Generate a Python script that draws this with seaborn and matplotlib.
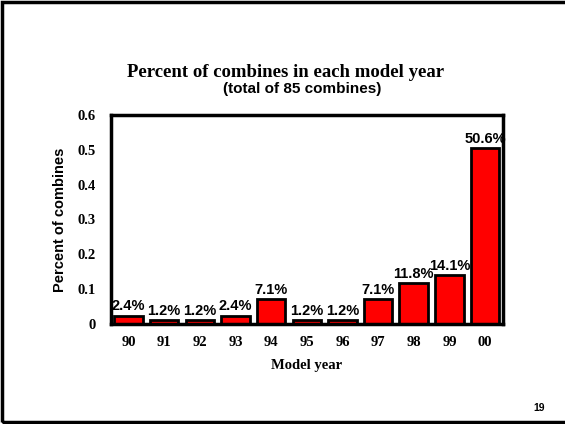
import matplotlib
matplotlib.use('Agg')
import pandas as pd
import seaborn as sns
from matplotlib import pyplot as plt
from matplotlib.patches import Rectangle

years = ['90', '91', '92', '93', '94', '95', '96', '97', '98', '99', '00']
share = [0.024, 0.012, 0.012, 0.024, 0.071, 0.012, 0.012, 0.071, 0.118, 0.141, 0.506]
labels = ['2.4%', '1.2%', '1.2%', '2.4%', '7.1%', '1.2%', '1.2%', '7.1%', '11.8%', '14.1%', '50.6%']

df = pd.DataFrame({'year': years, 'share': share})

sns.set_style('white', {'text.color': 'black', 'axes.labelcolor': 'black',
                        'xtick.color': 'black', 'ytick.color': 'black'})
serif = ['Liberation Serif', 'DejaVu Serif']
sans = ['Liberation Sans', 'DejaVu Sans']

fig = plt.figure(figsize=(5.65, 4.24), dpi=100)
ax = fig.add_axes([0.196, 0.236, 0.694, 0.493])

sns.barplot(data=df, x='year', y='share', order=years, color='#ff0000',
            edgecolor='black', linewidth=2, width=0.8, saturation=1, ax=ax)

# percentage labels above bars
for i, v in enumerate(share):
    ax.text(i, v + 0.006, labels[i], ha='center', va='bottom', color='black',
            fontsize=10.5, fontweight='bold', family=sans)

ax.set_xlim(-0.5, 10.5)
ax.set_ylim(0, 0.6)
ax.set_yticks([0, 0.1, 0.2, 0.3, 0.4, 0.5, 0.6])
ax.set_yticklabels(['0', '0.1', '0.2', '0.3', '0.4', '0.5', '0.6'])
ax.tick_params(axis='y', length=0, pad=11, labelcolor='black')
ax.tick_params(axis='x', length=0, pad=9, labelcolor='black')
for lab in ax.get_xticklabels() + ax.get_yticklabels():
    lab.set_family(serif)
    lab.set_fontweight('bold')
    lab.set_fontsize(10.5)

for s in ax.spines.values():
    s.set_color('black')
    s.set_linewidth(2.5)

ax.set_xlabel('Model year', family=serif, fontweight='bold', fontsize=10.5, labelpad=7, color='black')
ax.set_ylabel('Percent of combines', family=sans, fontweight='bold', fontsize=10.5, labelpad=7, color='black')

fig.text(0.505, 0.83, 'Percent of combines in each model year', ha='center', va='center',
         family=serif, fontweight='bold', fontsize=13.5, color='black')
fig.text(0.535, 0.79, '(total of 85 combines)', ha='center', va='center',
         family=sans, fontweight='bold', fontsize=11, color='black')
fig.text(0.955, 0.038, '19', ha='center', va='center', family=sans, fontweight='bold',
         fontsize=7.5, color='black')

fig.patches.append(Rectangle((0.004, 0.005), 1.2, 0.99, transform=fig.transFigure,
                             fill=False, edgecolor='black', linewidth=2.5))

fig.savefig('out.png', dpi=100)
